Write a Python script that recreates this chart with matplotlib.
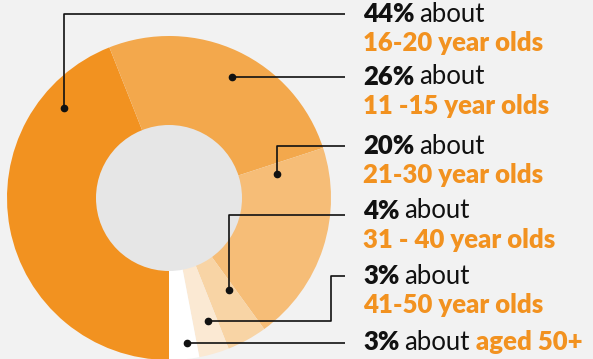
import matplotlib.pyplot as plt
from matplotlib.patches import Circle

# share of respondents by age group
shares = [44, 26, 20, 4, 3, 3]
pct_labels = ["44%", "26%", "20%", "4%", "3%", "3%"]
groups = ["16-20 year olds", "11 -15 year olds", "21-30 year olds",
          "31 - 40 year olds", "41-50 year olds", "aged 50+"]
colors = ["#f29220", "#f3a84c", "#f6bd77", "#f8d4a5", "#fbe9d3", "#ffffff"]

BG = "#f2f2f2"
ORANGE = "#f29220"
W, H = 593, 359

fig = plt.figure(figsize=(W / 100, H / 100), dpi=100, facecolor=BG)
ax = fig.add_axes([0, 0, 1, 1])
ax.set_facecolor(BG)

cx, cy = 169, H - 198
ax.pie(shares, colors=colors, startangle=270, counterclock=False,
       radius=162, center=(cx, cy), wedgeprops=dict(linewidth=0))
ax.add_patch(Circle((cx, cy), 73, color="#e6e6e6", lw=0, zorder=3))

ax.set_xlim(0, W)
ax.set_ylim(0, H)
ax.set_aspect("equal")
ax.axis("off")

# callout paths in pixel space (top-down y), one per slice
line_end = 345
callouts = [
    [(64, 108), (64, 14), (line_end, 14)],
    [(232, 77), (line_end, 77)],
    [(277, 174), (277, 146), (line_end, 146)],
    [(229, 290), (229, 215), (line_end, 215)],
    [(208, 321), (331, 321), (331, 276), (line_end, 276)],
    [(187, 343), (line_end, 343)],
]
for pts in callouts:
    xs = [p[0] for p in pts]
    ys = [H - p[1] for p in pts]
    ax.plot(xs, ys, color="#111111", lw=1.2, zorder=4, solid_capstyle="butt")
    ax.plot(xs[0], ys[0], "o", color="#111111", ms=4.5, zorder=5)

FONT = "Lato"
FS = 18.5
text_x = 363
first_rows = [14, 77, 146, 211, 276, 342]

fig.canvas.draw()
r = fig.canvas.get_renderer()
inv = ax.transData.inverted()

for i, (pct, grp, y) in enumerate(zip(pct_labels, groups, first_rows)):
    t = ax.text(text_x, H - y, pct, fontsize=FS, fontweight="heavy",
                family=FONT, color="#111111", va="center", ha="left")
    bb = t.get_window_extent(renderer=r)
    x2 = inv.transform((bb.x1, 0))[0]
    t2 = ax.text(x2 + 5, H - y, "about", fontsize=FS, fontweight="normal",
                 family=FONT, color="#111111", va="center", ha="left")
    if i == len(groups) - 1:
        bb2 = t2.get_window_extent(renderer=r)
        x3 = inv.transform((bb2.x1, 0))[0]
        ax.text(x3 + 6, H - y, grp, fontsize=FS, fontweight="heavy",
                family=FONT, color=ORANGE, va="center", ha="left")
    else:
        ax.text(text_x, H - y - 29, grp, fontsize=FS, fontweight="heavy",
                family=FONT, color=ORANGE, va="center", ha="left")

fig.savefig("out.png", dpi=100, facecolor=BG)
